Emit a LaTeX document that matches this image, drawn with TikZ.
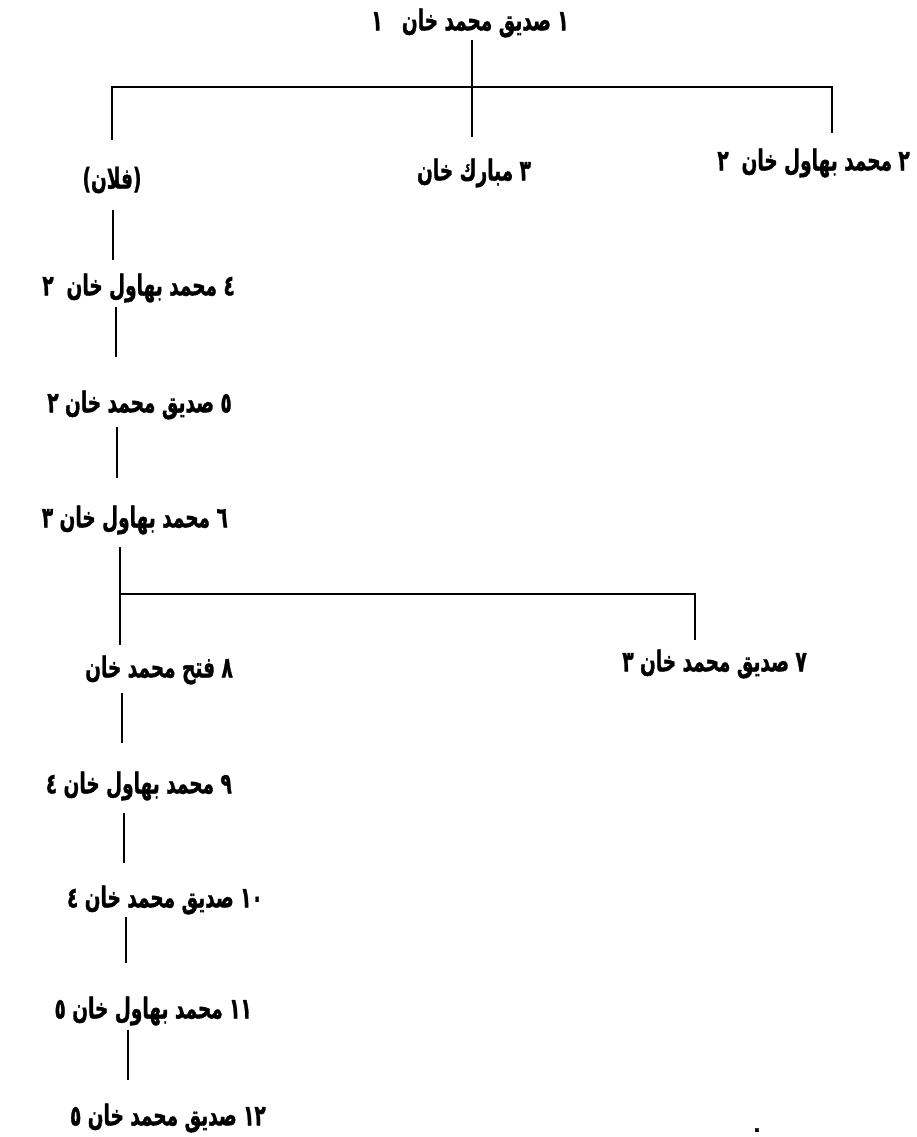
\documentclass[tikz,border=0pt]{standalone}
\usepackage{fontspec}
\usepackage{graphicx}
\TeXXeTstate=1
\newfontfamily\arabicfont[Script=Arabic, BoldFeatures={FakeBold=1.5}]{DejaVu Sans}
\newcommand\artext[1]{\scalebox{1}[1.55]{\beginR #1\endR}}
\tikzset{
  person/.style={font=\arabicfont\bfseries\fontsize{18.5}{22}\selectfont, inner sep=0pt},
  link/.style={line width=2.5pt, line cap=butt},
}
\begin{document}
\begin{tikzpicture}[x=1pt,y=-1pt]
\useasboundingbox (0,0) rectangle (916,1137);
% nodes
\node[person] (n1) at (470,23) {\artext{١ صديق محمد خان\ \ \ ١}};
\node[person,anchor=east] (n2) at (910,163) {\artext{٢ محمد بهاول خان\ \ ٢}};
\node[person] (n3) at (474,173) {\artext{٣ مبارك خان}};
\node[person] (fl) at (112,180) {\artext{(فلان)}};
\node[person,anchor=east] (n4) at (235,288) {\artext{٤ محمد بهاول خان\ \ ٢}};
\node[person,anchor=east] (n5) at (232,405) {\artext{٥ صديق محمد خان ٢}};
\node[person,anchor=east] (n6) at (228,520) {\artext{٦ محمد بهاول خان ٣}};
\node[person,anchor=east] (n7) at (807,664) {\artext{٧ صديق محمد خان ٣}};
\node[person,anchor=east] (n8) at (233,670) {\artext{٨ فتح محمد خان}};
\node[person,anchor=east] (n9) at (232,786) {\artext{٩ محمد بهاول خان ٤}};
\node[person,anchor=east] (n10) at (263,900) {\artext{\beginL ١٠\endL{} صديق محمد خان ٤}};
\node[person,anchor=east] (n11) at (252,1011) {\artext{\beginL ١١\endL{} محمد بهاول خان ٥}};
\node[person,anchor=east] (n12) at (266,1118) {\artext{\beginL ١٢\endL{} صديق محمد خان ٥}};
\node[person,anchor=south] (dot) at (757,1132) {.};
% top bracket
\coordinate (hL) at (112,87);
\coordinate (hR) at (832,87);
\draw[link] (n1) ++(2,17) -- ++(0,97);
\draw[link] (fl) ++(0,-40) -- (hL) -- (hR) -- ++(0,46);
% left column
\draw[link] (fl) ++(1,30) -- ++(0,50);
\draw[link] (n4.east) ++(-119,19) -- ++(0,50);
\draw[link] (n5.east) ++(-115,22) -- ++(0,51);
\draw[link] (n6.east) ++(-108,27) -- ++(0,98);
\draw[link] (n6.east) ++(-108,74) -- ++(575,0) -- ++(0,46);
\draw[link] (n8.east) ++(-111,23) -- ++(0,50);
\draw[link] (n9.east) ++(-108,27) -- ++(0,50);
\draw[link] (n10.east) ++(-137,17) -- ++(0,46);
\draw[link] (n11.east) ++(-124,19) -- ++(0,50);
\end{tikzpicture}
\end{document}
